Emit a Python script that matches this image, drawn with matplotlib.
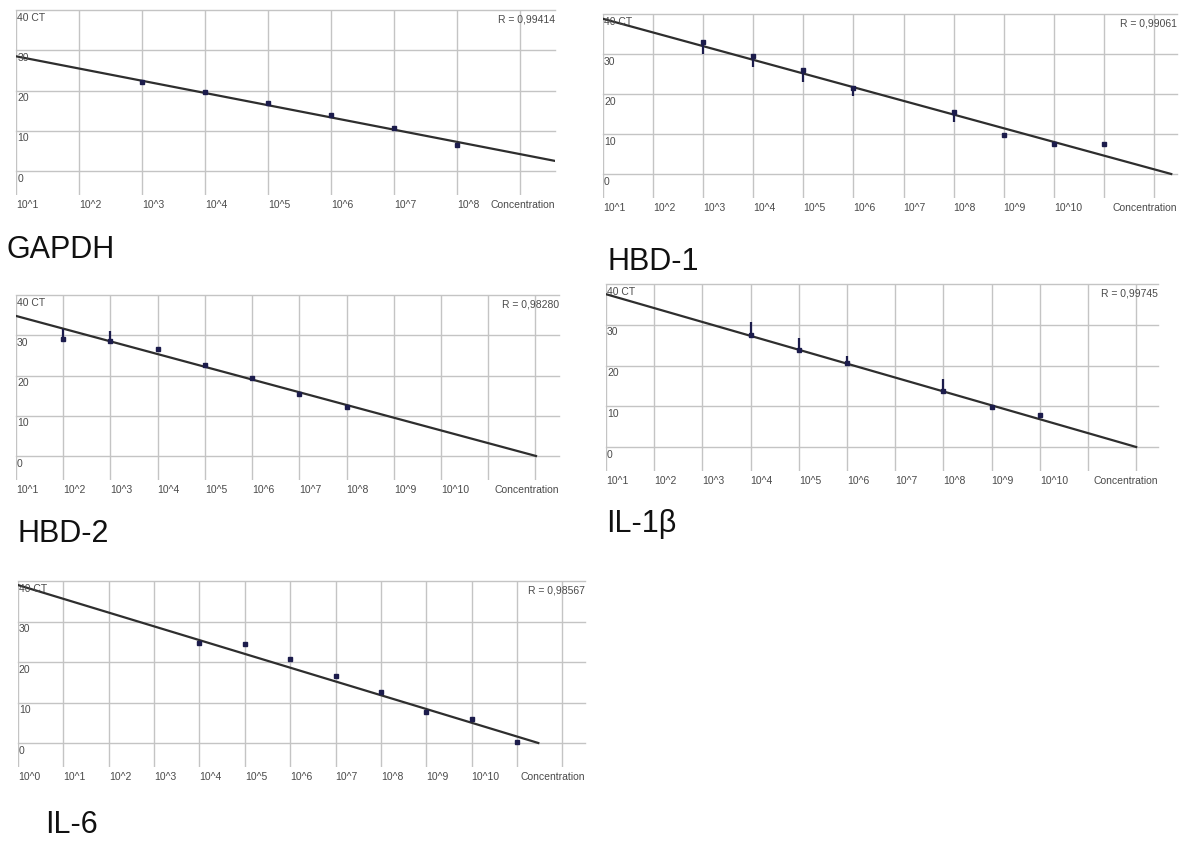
import matplotlib.pyplot as plt
import numpy as np

# values (x = decade index, 10^x)
gapdh_x = [3, 4, 5, 6, 7, 8]
gapdh_ct = [22.0, 19.7, 17.0, 14.0, 10.7, 6.5]
gapdh_lo = [0.4, 0.3, 0.4, 0.4, 0.3, 0.4]
gapdh_hi = [0, 0, 0, 0, 0, 0]

hbd1_x = [3, 4, 5, 6, 8, 9, 10, 11]
hbd1_ct = [33.0, 29.5, 26.0, 21.5, 15.5, 9.8, 7.5, 7.5]
hbd1_lo = [3.0, 2.8, 3.0, 2.0, 2.5, 0, 0, 0]
hbd1_hi = [0, 0, 0, 0, 0, 0, 0, 0]

hbd2_x = [2, 3, 4, 5, 6, 7, 8]
hbd2_ct = [29.0, 28.6, 26.6, 22.6, 19.4, 15.5, 12.2]
hbd2_lo = [0, 0, 0, 0, 0, 0, 0]
hbd2_hi = [2.6, 2.4, 0, 0, 0, 0, 0]

il1b_x = [4, 5, 6, 8, 9, 10]
il1b_ct = [27.5, 23.8, 20.6, 13.7, 9.8, 7.8]
il1b_lo = [0, 0, 0, 0, 0, 0]
il1b_hi = [3.1, 2.9, 1.7, 3.0, 0, 0]

il6_x = [4, 5, 6, 7, 8, 9, 10, 11]
il6_ct = [24.7, 24.4, 20.7, 16.5, 12.6, 7.7, 5.9, 0.2]
il6_lo = [0, 0, 0, 0, 0, 0, 0, 0]
il6_hi = [0, 0, 0, 0, 0, 0, 0, 0]

# fitted lines: (start x, CT at start, slope)
gapdh_fit = (1, 28.5, -3.04)
hbd1_fit = (1, 38.8, -3.42)
hbd2_fit = (1, 34.8, -3.16)
il1b_fit = (1, 37.5, -3.41)
il6_fit = (0, 39.0, -3.40)

r_values = ["0,99414", "0,99061", "0,98280", "0,99745", "0,98567"]
names = ["GAPDH", "HBD-1", "HBD-2", "IL-1\u03b2", "IL-6"]
# (first labelled decade, last labelled decade, right end of x axis)
x_ranges = [(1, 8, 9.55), (1, 10, 12.46), (1, 10, 12.5), (1, 10, 12.45), (0, 10, 12.5)]
y_ticks = [40, 30, 20, 10, 0]

W, H = 1185, 845
# pixel layout: left, right, y of 40 line, y of 0 line, name x, name y
layout = [
    (16, 555, 11, 172, 7, 250),
    (603, 1177, 15, 175, 607, 262),
    (16, 559, 296, 457, 17, 534),
    (606, 1158, 285, 448, 606, 524),
    (18, 585, 582, 744, 45, 825),
]

series = [
    (gapdh_x, gapdh_ct, gapdh_lo, gapdh_hi, gapdh_fit),
    (hbd1_x, hbd1_ct, hbd1_lo, hbd1_hi, hbd1_fit),
    (hbd2_x, hbd2_ct, hbd2_lo, hbd2_hi, hbd2_fit),
    (il1b_x, il1b_ct, il1b_lo, il1b_hi, il1b_fit),
    (il6_x, il6_ct, il6_lo, il6_hi, il6_fit),
]

small = ['Liberation Sans Narrow', 'Liberation Sans', 'DejaVu Sans']
grid_c = '#c4c4c4'
text_c = '#4a4a4a'
pt_c = '#1c1c4c'
YMIN = -6

fig = plt.figure(figsize=(W / 100, H / 100), dpi=100)

for i in range(5):
    left, right, top, y0, nx, ny = layout[i]
    scale = (y0 - top) / 40.0
    bottom = y0 - YMIN * scale
    ax = fig.add_axes([left / W, 1 - bottom / H, (right - left) / W, (bottom - top) / H])
    first, last, xmax = x_ranges[i]
    ax.set_xlim(first, xmax)
    ax.set_ylim(YMIN, 40)
    ax.axis('off')

    # grid
    for xv in range(first, int(xmax) + 1):
        ax.axvline(xv, color=grid_c, lw=1, zorder=0)
    for yv in y_ticks:
        ax.plot([first, xmax], [yv, yv], color=grid_c, lw=1, zorder=0, clip_on=False)

    # y labels, inside below each grid line
    for yv in y_ticks:
        lab = "40 CT" if yv == 40 else str(yv)
        ax.text(first + 0.02, yv - 0.4, lab, ha='left', va='top', fontsize=7.5,
                color=text_c, family=small)

    # x labels
    for xv in range(first, last + 1):
        ax.text(xv, -8.2, "10^%d" % xv, ha='left', va='center', fontsize=7.5,
                color=text_c, family=small, clip_on=False)
    ax.text(xmax, -8.2, "Concentration", ha='right', va='center', fontsize=7.5,
            color=text_c, family=small, clip_on=False)

    ax.text(xmax, 38, "R = " + r_values[i], ha='right', va='center', fontsize=7.5,
            color=text_c, family=small)

    # fitted line
    x_pts, ct, lo, hi, fit = series[i]
    fx0, fct0, slope = fit
    x_end = min(xmax, fx0 - fct0 / slope)
    lx = np.linspace(fx0, x_end, 50)
    ax.plot(lx, fct0 + slope * (lx - fx0), color='#2e2e2e', lw=1.6, zorder=2)

    # measured points
    ax.errorbar(x_pts, ct, yerr=[lo, hi], fmt='s', ms=3, color=pt_c, ecolor=pt_c,
                elinewidth=1.6, capsize=0, zorder=3)

    fig.text(nx / W, 1 - ny / H, names[i], ha='left', va='center', fontsize=22,
             family=['Liberation Sans', 'DejaVu Sans'], color='#111111')

fig.savefig('out.png', dpi=100, facecolor='white')
